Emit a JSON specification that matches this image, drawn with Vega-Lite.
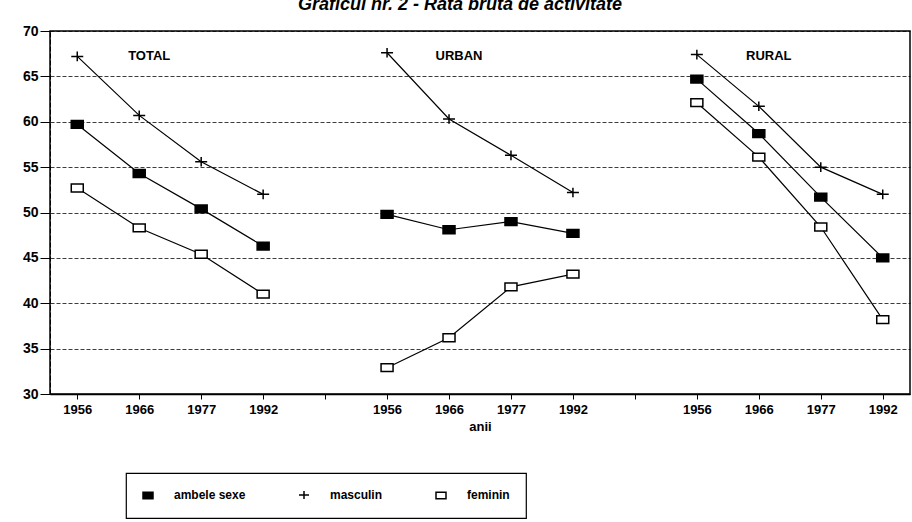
{
  "$schema": "https://vega.github.io/schema/vega-lite/v6.json",
  "width": 860,
  "height": 363,
  "autosize": {"type": "none"},
  "padding": {"left": 50, "top": 31, "right": 2, "bottom": 128},
  "background": "white",
  "title": {
    "text": "Graficul nr. 2 - Rata brută de activitate",
    "font": "Liberation Sans",
    "fontSize": 18,
    "fontWeight": "bold",
    "fontStyle": "italic",
    "color": "#000",
    "anchor": "middle",
    "dx": -20,
    "offset": 10
  },
  "data": {
    "values": [
      {"region": "TOTAL", "year": "1956", "slot": "TOTAL 1956", "series": "masculin", "value": 67.2},
      {"region": "TOTAL", "year": "1966", "slot": "TOTAL 1966", "series": "masculin", "value": 60.7},
      {"region": "TOTAL", "year": "1977", "slot": "TOTAL 1977", "series": "masculin", "value": 55.6},
      {"region": "TOTAL", "year": "1992", "slot": "TOTAL 1992", "series": "masculin", "value": 52.0},
      {"region": "TOTAL", "year": "1956", "slot": "TOTAL 1956", "series": "ambele sexe", "value": 59.7},
      {"region": "TOTAL", "year": "1966", "slot": "TOTAL 1966", "series": "ambele sexe", "value": 54.3},
      {"region": "TOTAL", "year": "1977", "slot": "TOTAL 1977", "series": "ambele sexe", "value": 50.4},
      {"region": "TOTAL", "year": "1992", "slot": "TOTAL 1992", "series": "ambele sexe", "value": 46.3},
      {"region": "TOTAL", "year": "1956", "slot": "TOTAL 1956", "series": "feminin", "value": 52.7},
      {"region": "TOTAL", "year": "1966", "slot": "TOTAL 1966", "series": "feminin", "value": 48.3},
      {"region": "TOTAL", "year": "1977", "slot": "TOTAL 1977", "series": "feminin", "value": 45.4},
      {"region": "TOTAL", "year": "1992", "slot": "TOTAL 1992", "series": "feminin", "value": 41.0},
      {"region": "URBAN", "year": "1956", "slot": "URBAN 1956", "series": "masculin", "value": 67.6},
      {"region": "URBAN", "year": "1966", "slot": "URBAN 1966", "series": "masculin", "value": 60.3},
      {"region": "URBAN", "year": "1977", "slot": "URBAN 1977", "series": "masculin", "value": 56.3},
      {"region": "URBAN", "year": "1992", "slot": "URBAN 1992", "series": "masculin", "value": 52.2},
      {"region": "URBAN", "year": "1956", "slot": "URBAN 1956", "series": "ambele sexe", "value": 49.8},
      {"region": "URBAN", "year": "1966", "slot": "URBAN 1966", "series": "ambele sexe", "value": 48.1},
      {"region": "URBAN", "year": "1977", "slot": "URBAN 1977", "series": "ambele sexe", "value": 49.0},
      {"region": "URBAN", "year": "1992", "slot": "URBAN 1992", "series": "ambele sexe", "value": 47.7},
      {"region": "URBAN", "year": "1956", "slot": "URBAN 1956", "series": "feminin", "value": 32.9},
      {"region": "URBAN", "year": "1966", "slot": "URBAN 1966", "series": "feminin", "value": 36.2},
      {"region": "URBAN", "year": "1977", "slot": "URBAN 1977", "series": "feminin", "value": 41.8},
      {"region": "URBAN", "year": "1992", "slot": "URBAN 1992", "series": "feminin", "value": 43.2},
      {"region": "RURAL", "year": "1956", "slot": "RURAL 1956", "series": "masculin", "value": 67.4},
      {"region": "RURAL", "year": "1966", "slot": "RURAL 1966", "series": "masculin", "value": 61.7},
      {"region": "RURAL", "year": "1977", "slot": "RURAL 1977", "series": "masculin", "value": 55.0},
      {"region": "RURAL", "year": "1992", "slot": "RURAL 1992", "series": "masculin", "value": 52.0},
      {"region": "RURAL", "year": "1956", "slot": "RURAL 1956", "series": "ambele sexe", "value": 64.7},
      {"region": "RURAL", "year": "1966", "slot": "RURAL 1966", "series": "ambele sexe", "value": 58.7},
      {"region": "RURAL", "year": "1977", "slot": "RURAL 1977", "series": "ambele sexe", "value": 51.7},
      {"region": "RURAL", "year": "1992", "slot": "RURAL 1992", "series": "ambele sexe", "value": 45.0},
      {"region": "RURAL", "year": "1956", "slot": "RURAL 1956", "series": "feminin", "value": 62.1},
      {"region": "RURAL", "year": "1966", "slot": "RURAL 1966", "series": "feminin", "value": 56.1},
      {"region": "RURAL", "year": "1977", "slot": "RURAL 1977", "series": "feminin", "value": 48.4},
      {"region": "RURAL", "year": "1992", "slot": "RURAL 1992", "series": "feminin", "value": 38.2}
    ]
  },
  "encoding": {
    "x": {
      "field": "slot",
      "type": "ordinal",
      "scale": {
        "type": "point",
        "padding": 0.44,
        "domain": ["TOTAL 1956", "TOTAL 1966", "TOTAL 1977", "TOTAL 1992", "gap1", "URBAN 1956", "URBAN 1966", "URBAN 1977", "URBAN 1992", "gap2", "RURAL 1956", "RURAL 1966", "RURAL 1977", "RURAL 1992"]
      },
      "axis": {
        "title": "anii",
        "labelExpr": "substring(datum.label, 6)",
        "labelAngle": 0,
        "labelFont": "Liberation Sans",
        "labelFontSize": 13,
        "labelFontWeight": "bold",
        "labelColor": "#000",
        "labelPadding": 4,
        "titleFont": "Liberation Sans",
        "titleFontSize": 13,
        "titleFontWeight": "bold",
        "titleColor": "#000",
        "titlePadding": 4,
        "tickColor": "#000",
        "tickSize": 5,
        "domainColor": "#000",
        "domainWidth": 1.5,
        "grid": false
      }
    },
    "y": {
      "field": "value",
      "type": "quantitative",
      "scale": {"domain": [30, 70], "nice": false, "zero": false},
      "axis": {
        "title": null,
        "values": [30, 35, 40, 45, 50, 55, 60, 65, 70],
        "labelFont": "Liberation Sans",
        "labelFontSize": 14,
        "labelFontWeight": "bold",
        "labelColor": "#000",
        "labelPadding": 2,
        "tickColor": "#000",
        "tickSize": 10,
        "domainColor": "#000",
        "domainDash": [5, 2],
        "grid": true,
        "gridColor": "#000",
        "gridDash": [4, 2],
        "gridWidth": 0.9,
        "gridOpacity": 0.85
      }
    }
  },
  "layer": [
    {
      "mark": {"type": "line", "color": "#000", "strokeWidth": 1.2},
      "encoding": {
        "detail": [{"field": "region"}, {"field": "series"}]
      }
    },
    {
      "mark": {"type": "point", "filled": true, "stroke": "#000", "strokeWidth": 1.5, "size": 144, "opacity": 1},
      "encoding": {
        "shape": {
          "field": "series",
          "type": "nominal",
          "scale": {
            "domain": ["ambele sexe", "masculin", "feminin"],
            "range": ["M-1,-0.65H1V0.65H-1Z", "M-1,0H1M0,-0.8V0.8", "M-1,-0.65H1V0.65H-1Z"]
          },
          "legend": {
            "title": null,
            "encode": {
              "symbols": {
                "stroke": {"value": "#000"},
                "strokeWidth": {"value": 1.5}
              }
            }
          }
        },
        "fill": {
          "field": "series",
          "type": "nominal",
          "scale": {
            "domain": ["ambele sexe", "masculin", "feminin"],
            "range": ["#000", "#000", "#fff"]
          },
          "legend": {
            "title": null,
            "encode": {
              "symbols": {
                "stroke": {"value": "#000"},
                "strokeWidth": {"value": 1.5}
              }
            }
          }
        }
      }
    },
    {
      "data": {
        "values": [
          {"region": "TOTAL", "slot": "TOTAL 1966", "value": 67.2},
          {"region": "URBAN", "slot": "URBAN 1966", "value": 67.2},
          {"region": "RURAL", "slot": "RURAL 1966", "value": 67.2}
        ]
      },
      "mark": {"type": "text", "font": "Liberation Sans", "fontSize": 13, "fontWeight": "bold", "fill": "#000", "align": "center", "dx": 10},
      "encoding": {
        "text": {"field": "region", "type": "nominal"}
      }
    }
  ],
  "config": {
    "view": {"stroke": "#000", "strokeWidth": 1.5},
    "legend": {
      "orient": "none",
      "legendX": 76,
      "legendY": 442,
      "direction": "horizontal",
      "strokeColor": "#000",
      "strokeWidth": 1.2,
      "padding": 16,
      "symbolSize": 100,
      "labelFont": "Liberation Sans",
      "labelFontSize": 12,
      "labelFontWeight": "bold",
      "labelColor": "#000",
      "labelOffset": 20,
      "columnPadding": 50
    }
  }
}
